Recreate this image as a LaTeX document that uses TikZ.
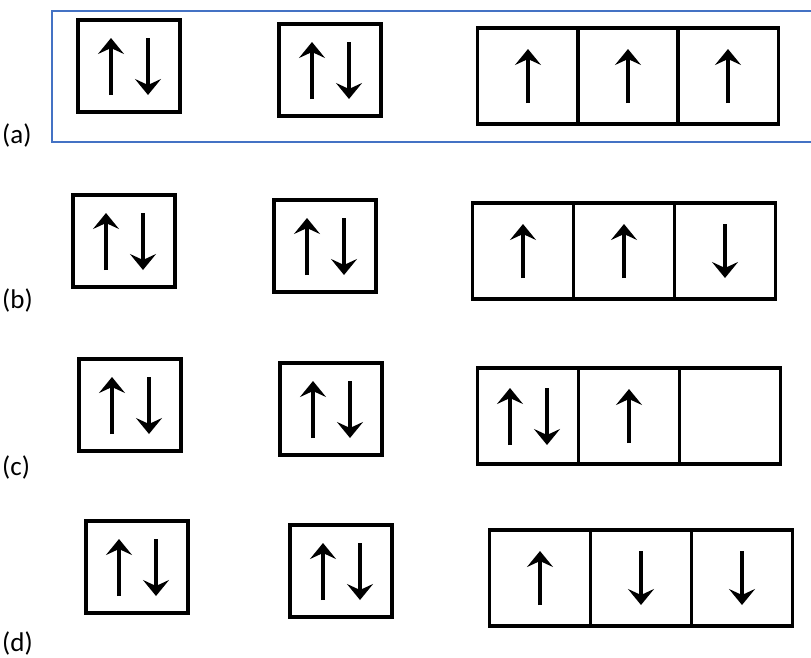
\documentclass[tikz,border=0pt]{standalone}
\usepackage{fontspec}
\setmainfont{Carlito}
\usetikzlibrary{arrows.meta,calc}
\definecolor{frameblue}{HTML}{4472C4}
\newcommand\pairspin[1]{%
  \draw[spin] ($(#1)+(-18,29)$) -- ($(#1)+(-18,-28)$);
  \draw[spin] ($(#1)+(19,-28)$) -- ($(#1)+(19,29)$);}
\newcommand\upspin[1]{\draw[spin] ($(#1)+(0,27)$) -- ($(#1)+(0,-27)$);}
\newcommand\downspin[1]{\draw[spin] ($(#1)+(0,-27)$) -- ($(#1)+(0,27)$);}
\begin{document}
\begin{tikzpicture}[x=1pt,y=-1pt,
  orb/.style={draw,line width=3.5pt,minimum width=102pt,minimum height=92pt,inner sep=0pt,outer sep=0pt},
  cell/.style={draw,line width=3.5pt,minimum width=101pt,minimum height=96pt,inner sep=0pt,outer sep=0pt},
  spin/.style={line width=3.2pt,-{Stealth[length=16pt,width=26pt,inset=6pt]}},
  lbl/.style={font=\fontsize{27}{32}\selectfont,anchor=west,inner sep=0pt}]
\useasboundingbox (0,0) rectangle (811,657);
% frame around option (a)
\draw[frameblue,line width=1.8pt] (815,11) -- (52,11) -- (52,142) -- (815,142);
% labels
\node[lbl] (la) at (2,135) {(a)};
\node[lbl] (lb) at (2,300) {(b)};
\node[lbl] (lc) at (2,467) {(c)};
\node[lbl] (ld) at (2,643) {(d)};
% row (a)
\node[orb] (a1) at (129,66) {};
\node[orb] (a2) at (330,70) {};
\node[cell] (a3) at (528,76) {};
\node[cell] (a4) at (628,76) {};
\node[cell] (a5) at (728,76) {};
\pairspin{a1}\pairspin{a2}\upspin{a3}\upspin{a4}\upspin{a5}
% row (b)
\node[orb] (b1) at (124,241) {};
\node[orb] (b2) at (325,246) {};
\node[cell] (b3) at (523,251) {};
\node[cell] (b4) at (624,251) {};
\node[cell] (b5) at (725,251) {};
\pairspin{b1}\pairspin{b2}\upspin{b3}\upspin{b4}\downspin{b5}
% row (c)
\node[orb] (c1) at (130,405) {};
\node[orb] (c2) at (331,409) {};
\node[cell] (c3) at (528,416) {};
\node[cell] (c4) at (629,416) {};
\node[cell] (c5) at (730,416) {};
\pairspin{c1}\pairspin{c2}\pairspin{c3}\upspin{c4}
% row (d)
\node[orb] (d1) at (137,567) {};
\node[orb] (d2) at (341,571) {};
\node[cell] (d3) at (540,578) {};
\node[cell] (d4) at (641,578) {};
\node[cell] (d5) at (742,578) {};
\pairspin{d1}\pairspin{d2}\upspin{d3}\downspin{d4}\downspin{d5}
\end{tikzpicture}
\end{document}
